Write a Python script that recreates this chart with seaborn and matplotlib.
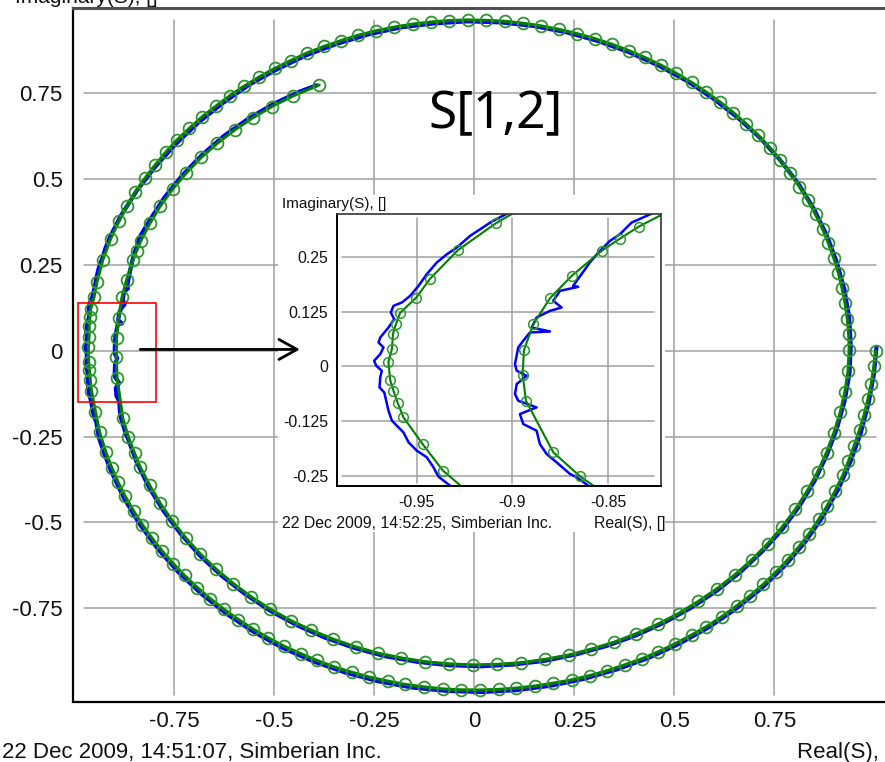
import numpy as np
import matplotlib
matplotlib.use("Agg")
import matplotlib.pyplot as plt
from matplotlib.patches import Rectangle
import seaborn as sns

# ---- model curve (green, circles): (phase deg, magnitude) ----
model_turn1 = [(0.0, 1.003), (-2.6, 1.000), (-5.5, 0.997), (-8.1, 0.994), (-10.9, 0.992),
               (-13.4, 0.990), (-16.2, 0.989), (-19.0, 0.989), (-21.5, 0.990), (-24.3, 0.990),
               (-27.1, 0.991), (-29.6, 0.991), (-32.5, 0.992), (-35.2, 0.992), (-37.8, 0.992),
               (-40.6, 0.992), (-43.3, 0.992), (-46.0, 0.992), (-48.6, 0.991), (-51.4, 0.991),
               (-54.2, 0.991), (-56.7, 0.990), (-59.5, 0.990), (-62.3, 0.990), (-64.9, 0.990),
               (-67.6, 0.989), (-70.4, 0.989), (-73.0, 0.989), (-75.7, 0.989), (-78.5, 0.988),
               (-81.1, 0.988), (-83.9, 0.988), (-86.4, 0.988), (-89.2, 0.988), (-92.0, 0.988),
               (-94.6, 0.988), (-97.3, 0.987), (-100.1, 0.987), (-102.7, 0.986), (-105.5, 0.986),
               (-108.1, 0.985), (-110.8, 0.985), (-113.6, 0.984), (-116.2, 0.983), (-118.9, 0.983),
               (-121.7, 0.982), (-124.3, 0.981), (-127.0, 0.980), (-129.8, 0.979), (-132.4, 0.978),
               (-135.1, 0.977), (-137.9, 0.976), (-140.5, 0.975), (-143.2, 0.974), (-146.0, 0.973),
               (-148.6, 0.972), (-151.3, 0.971), (-154.1, 0.970), (-156.7, 0.969), (-159.4, 0.968),
               (-162.3, 0.967)]
model_left1 = [(-165.75, 0.9661), (-169.41, 0.9634), (-173.07, 0.9640), (-174.98, 0.9636),
               (-176.70, 0.9638), (-178.15, 0.9644), (-180.59, 0.9649), (-182.40, 0.9638),
               (-184.38, 0.9653), (-185.82, 0.9658), (-187.27, 0.9665), (-189.40, 0.9632),
               (-192.01, 0.9641), (-195.94, 0.9657), (-199.77, 0.9657)]
model_turn1b = [(-203.0, 0.9655), (-205.9, 0.965), (-208.6, 0.965), (-211.4, 0.9645), (-214.1, 0.964),
                (-216.9, 0.964), (-219.6, 0.964), (-222.3, 0.963), (-225.1, 0.963), (-227.8, 0.962),
                (-230.6, 0.962), (-233.3, 0.962), (-236.0, 0.962), (-238.8, 0.962), (-241.5, 0.962),
                (-244.3, 0.963), (-247.0, 0.963), (-249.8, 0.963), (-252.5, 0.964), (-255.3, 0.964),
                (-258.0, 0.964), (-260.8, 0.964), (-263.5, 0.964), (-266.3, 0.964), (-269.0, 0.964),
                (-271.8, 0.963), (-274.5, 0.963), (-277.3, 0.962), (-280.0, 0.961), (-282.8, 0.960),
                (-285.5, 0.959), (-288.3, 0.958), (-291.0, 0.957), (-293.8, 0.956), (-296.5, 0.955),
                (-299.3, 0.954), (-302.0, 0.953), (-304.8, 0.952), (-307.5, 0.951), (-310.3, 0.950),
                (-313.0, 0.949), (-315.8, 0.948), (-318.5, 0.947), (-321.3, 0.946), (-324.0, 0.945),
                (-326.8, 0.944), (-329.5, 0.943), (-332.3, 0.942), (-335.0, 0.941), (-337.8, 0.940),
                (-340.5, 0.939), (-343.3, 0.938), (-346.0, 0.938), (-348.8, 0.937), (-351.5, 0.937),
                (-354.3, 0.937), (-357.0, 0.937), (-359.8, 0.937)]
model_turn2 = [(-363.6, 0.936), (-367.3, 0.934), (-371.1, 0.932), (-374.9, 0.930), (-378.6, 0.929),
               (-382.4, 0.928), (-386.2, 0.927), (-389.9, 0.926), (-393.7, 0.925), (-397.5, 0.924),
               (-401.2, 0.923), (-405.0, 0.922), (-408.8, 0.921), (-412.5, 0.920), (-416.3, 0.920),
               (-420.1, 0.919), (-423.8, 0.918), (-427.6, 0.918), (-431.4, 0.917), (-435.1, 0.917),
               (-438.9, 0.916), (-442.7, 0.916), (-446.4, 0.915), (-450.2, 0.915), (-454.0, 0.914),
               (-457.7, 0.914), (-461.5, 0.913), (-465.3, 0.913), (-469.0, 0.912), (-472.8, 0.911),
               (-476.6, 0.910), (-480.3, 0.910), (-484.1, 0.909), (-487.9, 0.908), (-491.6, 0.907),
               (-495.4, 0.906), (-499.2, 0.905), (-502.9, 0.904), (-506.7, 0.903), (-510.5, 0.902),
               (-514.2, 0.901), (-518.0, 0.901), (-520.6, 0.900)]
model_left2 = [(-523.83, 0.9004), (-527.43, 0.9003), (-534.99, 0.8964), (-538.78, 0.8949),
               (-542.38, 0.8948), (-546.19, 0.8943), (-550.04, 0.8941), (-553.38, 0.8933),
               (-557.17, 0.8933), (-559.07, 0.8929), (-560.94, 0.8930)]
model_end = [(-564.6, 0.892), (-568.3, 0.891), (-572.1, 0.889), (-575.8, 0.887), (-579.6, 0.885),
             (-583.3, 0.882), (-587.1, 0.879), (-590.8, 0.876), (-594.6, 0.873), (-598.6, 0.870),
             (-603.4, 0.866)]

# ---- measured curve (blue) ----
meas_a = [(0.5, 1.005), (-4, 1.001), (-9, 0.997), (-14, 0.995), (-19, 0.994), (-24, 0.995),
          (-29, 0.996), (-34, 0.997), (-39, 0.997), (-44, 0.997), (-49, 0.996), (-54, 0.996),
          (-59, 0.995), (-64, 0.995), (-69, 0.994), (-74, 0.994), (-79, 0.994), (-84, 0.994),
          (-89, 0.994), (-94, 0.993), (-99, 0.993), (-104, 0.992), (-109, 0.991), (-114, 0.990),
          (-119, 0.989), (-124, 0.987), (-129, 0.985), (-134, 0.983), (-139, 0.981), (-144, 0.979),
          (-149, 0.977), (-154, 0.975), (-159, 0.973), (-162, 0.972)]
# near Re=-0.96 (read from the zoom window), (re, im)
meas_left1 = [(-0.9387, -0.2515), (-0.9413, -0.2302), (-0.9448, -0.2074), (-0.9500, -0.1923),
              (-0.9543, -0.1733), (-0.9570, -0.1505), (-0.9604, -0.1353), (-0.9630, -0.1239),
              (-0.9648, -0.1011), (-0.9660, -0.0783), (-0.9670, -0.0593), (-0.9695, -0.0479),
              (-0.9691, -0.0251), (-0.9683, -0.0099), (-0.9712, 0.0015), (-0.9723, 0.0129),
              (-0.9691, 0.0281), (-0.9674, 0.0433), (-0.9700, 0.0547), (-0.9691, 0.0661),
              (-0.9648, 0.0889), (-0.9618, 0.1079), (-0.9636, 0.1231), (-0.9622, 0.1383),
              (-0.9578, 0.1459), (-0.9535, 0.1611), (-0.9491, 0.1839), (-0.9448, 0.2105),
              (-0.9396, 0.2371), (-0.9343, 0.2561), (-0.9291, 0.2713), (-0.9222, 0.2979),
              (-0.9109, 0.3305)]
meas_c = [(-204, 0.967), (-209, 0.964), (-214, 0.961), (-219, 0.959), (-224, 0.958), (-229, 0.957),
          (-234, 0.958), (-239, 0.957), (-244, 0.958), (-249, 0.958), (-254, 0.959), (-259, 0.960),
          (-264, 0.959), (-269, 0.960), (-274, 0.959), (-279, 0.958), (-284, 0.956), (-289, 0.954),
          (-294, 0.952), (-299, 0.950), (-304, 0.949), (-309, 0.947), (-314, 0.946), (-319, 0.946),
          (-324, 0.945), (-329, 0.945), (-334, 0.944), (-339, 0.943), (-344, 0.942), (-349, 0.942),
          (-354, 0.942), (-359, 0.941), (-364, 0.940), (-369, 0.937), (-374, 0.934), (-379, 0.932),
          (-384, 0.931), (-389, 0.930), (-394, 0.929), (-399, 0.927), (-404, 0.926), (-409, 0.925),
          (-414, 0.924), (-419, 0.923), (-424, 0.922), (-429, 0.921), (-434, 0.920), (-439, 0.920),
          (-444, 0.919), (-449, 0.919), (-454, 0.918), (-459, 0.917), (-464, 0.917), (-469, 0.916),
          (-474, 0.915), (-479, 0.914), (-484, 0.913), (-489, 0.911), (-494, 0.910), (-499, 0.909),
          (-504, 0.907), (-509, 0.906), (-514, 0.905), (-519, 0.904)]
# near Re=-0.89 (zoom window), (re, im)
meas_left2 = [(-0.8665, -0.2530), (-0.8700, -0.2454), (-0.8770, -0.2188), (-0.8822, -0.1998),
              (-0.8857, -0.1771), (-0.8874, -0.1467), (-0.8944, -0.1315), (-0.8961, -0.1087),
              (-0.8874, -0.0935), (-0.8970, -0.0783), (-0.8987, -0.0631), (-0.8978, -0.0403),
              (-0.8926, -0.0213), (-0.8978, -0.0099), (-0.8987, 0.0053), (-0.8970, 0.0433),
              (-0.8944, 0.0585), (-0.8909, 0.0775), (-0.8804, 0.0798), (-0.8900, 0.0889),
              (-0.8874, 0.1117), (-0.8804, 0.1269), (-0.8743, 0.1345), (-0.8787, 0.1497),
              (-0.8752, 0.1725), (-0.8657, 0.1816), (-0.8683, 0.1839), (-0.8596, 0.2371),
              (-0.8552, 0.2599), (-0.8491, 0.2865), (-0.8439, 0.3017), (-0.8378, 0.3283)]
meas_e = [(-565, 0.896), (-570, 0.894), (-575, 0.891), (-580, 0.888), (-585, 0.885),
          (-590, 0.881), (-595, 0.877), (-600, 0.872), (-603, 0.868)]

main_ticks = [-0.75, -0.5, -0.25, 0, 0.25, 0.5, 0.75]
main_ticklabels = ["-0.75", "-0.5", "-0.25", "0", "0.25", "0.5", "0.75"]
inset_xticks = [-0.95, -0.9, -0.85]
inset_xticklabels = ["-0.95", "-0.9", "-0.85"]
inset_yticks = [-0.25, -0.125, 0, 0.125, 0.25]
inset_yticklabels = ["-0.25", "-0.125", "0", "0.125", "0.25"]


def polar_to_xy(pts):
    ph = np.radians([p[0] for p in pts])
    m = np.array([p[1] for p in pts])
    return m * np.cos(ph), m * np.sin(ph)


def xy(pts):
    return np.array([p[0] for p in pts]), np.array([p[1] for p in pts])


parts = [polar_to_xy(model_turn1), polar_to_xy(model_left1), polar_to_xy(model_turn1b),
         polar_to_xy(model_turn2), polar_to_xy(model_left2), polar_to_xy(model_end)]
model_re = np.concatenate([p[0] for p in parts])
model_im = np.concatenate([p[1] for p in parts])

parts = [polar_to_xy(meas_a), xy(meas_left1), polar_to_xy(meas_c), xy(meas_left2), polar_to_xy(meas_e)]
meas_re = np.concatenate([p[0] for p in parts])
meas_im = np.concatenate([p[1] for p in parts])

sns.set_style("white")
plt.rcParams['font.family'] = ['Liberation Sans', 'DejaVu Sans']

W, H = 885, 762
fig = plt.figure(figsize=(W / 100, H / 100), dpi=100)
fig.patch.set_facecolor("white")

GRID = "#a0a0a0"
BLUE = "#0000ff"
GREEN = "#008000"
MEC = "#2f962f"

# ---------------- main axes ----------------
ax = fig.add_axes([73 / W, 1 - 701.5 / H, 815 / W, 693.2 / H])
sns.lineplot(x=meas_re, y=meas_im, sort=False, estimator=None, color=BLUE, lw=3.0, ax=ax, zorder=2)
sns.lineplot(x=model_re, y=model_im, sort=False, estimator=None, color=GREEN, lw=2.2, marker="o",
             markersize=8.5, markerfacecolor="none", markeredgecolor=MEC, markeredgewidth=1.3,
             ax=ax, zorder=2.5)
ax.set_xlim(-1.003, 1.034)
ax.set_ylim(-1.0215, 0.9977)

for v in main_ticks:
    ax.axvline(v, ymin=6 / 693, ymax=1 - 12 / 693, color=GRID, lw=1.1, zorder=0.5)
    ax.axhline(v, xmin=11 / 815, xmax=1 - 12 / 815, color=GRID, lw=1.1, zorder=0.5)

ax.set_xticks(main_ticks)
ax.set_xticklabels(main_ticklabels)
ax.set_yticks(main_ticks)
ax.set_yticklabels(main_ticklabels)
ax.tick_params(axis="both", direction="inout", length=7, width=1.2, color="black",
               labelsize=16, labelcolor="#111111")
ax.tick_params(axis="x", pad=3)
ax.tick_params(axis="y", pad=4)
ax.grid(False)
for s in ["left", "bottom"]:
    ax.spines[s].set_color("black")
    ax.spines[s].set_linewidth(1.6)
ax.spines["top"].set_color("#505050")
ax.spines["top"].set_linewidth(2.2)
ax.spines["right"].set_visible(False)

ax.text(0.054, 0.649, "S[1,2]", ha="center", va="baseline", fontsize=37,
        family=["Noto Sans", "DejaVu Sans"], fontweight="light", color="black", zorder=3)

# red box and arrow
ax.add_patch(Rectangle((-0.99, -0.15), 0.1935, 0.288, fill=False, edgecolor="red", lw=1.2, zorder=4))
ax.add_patch(Rectangle((278 / W, 1 - 532 / H), (665 - 278) / W, (532 - 195) / H,
                       transform=fig.transFigure, facecolor="white", edgecolor="none",
                       zorder=3, clip_on=False))
ax.annotate("", xy=(-0.436, 0.004), xytext=(-0.835, 0.004),
            arrowprops=dict(arrowstyle="->,head_length=0.65,head_width=0.36", color="black",
                            lw=2, mutation_scale=20, shrinkA=0, shrinkB=0),
            zorder=5, annotation_clip=False)

fig.text(15 / W, 1 - 3 / H, "Imaginary(S), []", fontsize=15, va="baseline", color="#111111")
fig.text(2 / W, 1 - 758 / H, "22 Dec 2009, 14:51:07, Simberian Inc.", fontsize=16,
         va="baseline", color="#111111")
fig.text(797 / W, 1 - 758 / H, "Real(S), []", fontsize=16, va="baseline", color="#111111")

# ---------------- inset ----------------
ax2 = fig.add_axes([337 / W, 1 - 486 / H, 324 / W, 272 / H], zorder=2)
ax2.set_facecolor("white")
sns.lineplot(x=meas_re, y=meas_im, sort=False, estimator=None, color=BLUE, lw=1.8, ax=ax2, zorder=2)
sns.lineplot(x=model_re, y=model_im, sort=False, estimator=None, color=GREEN, lw=1.5, marker="o",
             markersize=7, markerfacecolor="none", markeredgecolor=MEC, markeredgewidth=1.1,
             ax=ax2, zorder=2.5)
ax2.set_xlim(-0.9917, -0.8224)
ax2.set_ylim(-0.273, 0.348)
for v in inset_xticks:
    ax2.axvline(v, ymin=3 / 272, ymax=1 - 4 / 272, color=GRID, lw=1.1, zorder=0.5)
for v in inset_yticks:
    ax2.axhline(v, xmin=5 / 324, xmax=1 - 7 / 324, color=GRID, lw=1.1, zorder=0.5)
ax2.set_xticks(inset_xticks)
ax2.set_xticklabels(inset_xticklabels)
ax2.set_yticks(inset_yticks)
ax2.set_yticklabels(inset_yticklabels)
ax2.tick_params(axis="both", direction="inout", length=7, width=1.0, color="black",
                labelsize=11.4, labelcolor="#111111", pad=3)
ax2.grid(False)
for s in ["left", "bottom"]:
    ax2.spines[s].set_color("black")
    ax2.spines[s].set_linewidth(1.4)
for s in ["top", "right"]:
    ax2.spines[s].set_color("#333333")
    ax2.spines[s].set_linewidth(1.2)

fig.text(282 / W, 1 - 208 / H, "Imaginary(S), []", fontsize=11, va="baseline", color="#111111")
fig.text(282 / W, 1 - 528 / H, "22 Dec 2009, 14:52:25, Simberian Inc.", fontsize=11.4,
         va="baseline", color="#111111")
fig.text(665 / W, 1 - 528 / H, "Real(S), []", fontsize=11.4, ha="right", va="baseline",
         color="#111111")

fig.savefig("out.png", dpi=100)
